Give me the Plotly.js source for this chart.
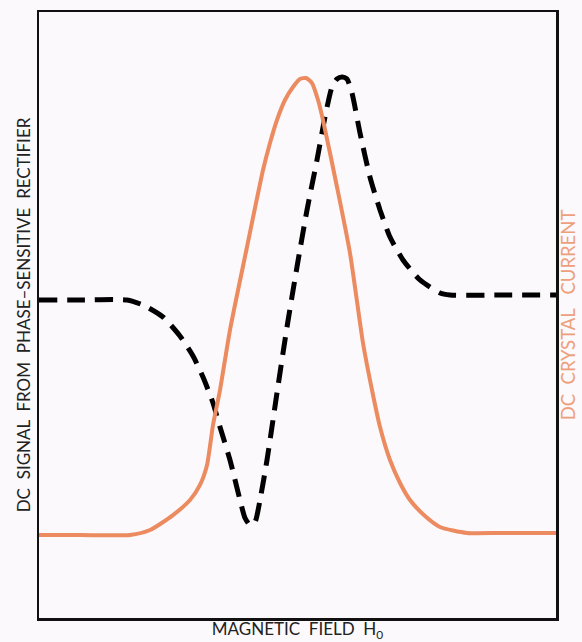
<!DOCTYPE html>
<html>
<head>
<meta charset="utf-8">
<script src="https://cdn.plot.ly/plotly-3.0.1.min.js"></script>
<style>
  html, body { margin: 0; padding: 0; background: #fbf9fb; }
  #chart { width: 582px; height: 642px; }
</style>
</head>
<body>
<div id="chart"></div>
<script>
// Magnetic field (arbitrary units, 0..100 across the frame)
const crystalField = [0, 7.93, 17.6, 21.47, 25.92, 29.21, 31.14, 32.5, 33.66, 35.01, 36.94, 40.23, 43.33, 44.68, 46.03, 47.58, 49.13, 50.48, 51.64, 52.8, 53.97, 54.93, 57.64, 60.15, 62.67, 64.41, 65.96, 67.89, 69.83, 71.76, 74.66, 77.56, 82.79, 89.17, 100];
// DC crystal current (arbitrary units)
const crystalCurrent = [13.7, 13.7, 13.7, 14.52, 16.99, 19.47, 21.95, 25.25, 31.85, 37.62, 47.52, 61.22, 73.93, 78.38, 82.18, 85.48, 87.62, 88.94, 89.11, 88.28, 85.48, 82.18, 71.12, 60.23, 45.38, 37.62, 31.52, 26.07, 22.28, 19.47, 16.83, 15.02, 14.03, 14.03, 14.03];

const signalField = [0, 7.93, 17.02, 20.12, 23.98, 27.27, 29.79, 31.72, 33.66, 35.01, 36.94, 38.88, 39.85, 40.81, 41.78, 42.75, 44.1, 46.03, 47.97, 49.9, 51.84, 53.77, 55.32, 56.67, 57.64, 58.61, 59.57, 60.54, 62.09, 64.02, 65.96, 67.89, 70.41, 73.69, 77.56, 79.5, 89.17, 100];
// DC signal from phase-sensitive rectifier (arbitrary units)
const rectifierSignal = [52.48, 52.48, 52.48, 51.65, 49.67, 46.53, 43.23, 39.77, 35.48, 31.52, 26.07, 19.47, 16.5, 15.35, 15.84, 19.47, 26.07, 37.13, 48.02, 57.92, 67.33, 75.58, 82.67, 87.62, 88.94, 89.27, 88.94, 86.63, 80.03, 72.77, 67.33, 62.87, 59.08, 55.78, 53.63, 53.3, 53.3, 53.3];

const xTitle = 'MAGNETIC\u00A0\u00A0FIELD\u00A0\u00A0H<sub>0</sub>';
const yTitle = 'DC\u00A0\u00A0SIGNAL\u00A0\u00A0FROM\u00A0\u00A0PHASE\u2013SENSITIVE\u00A0\u00A0RECTIFIER';
const y2Title = 'DC\u00A0\u00A0CRYSTAL\u00A0\u00A0\u00A0CURRENT';

const orange = '#ec8a60';
const fontFam = 'Lato, "DejaVu Sans", sans-serif';

const traces = [
  {
    x: crystalField, y: crystalCurrent, yaxis: 'y2',
    type: 'scatter', mode: 'lines', name: 'DC crystal current',
    line: { color: orange, width: 4, shape: 'spline', smoothing: 0.6 },
    hoverinfo: 'skip'
  },
  {
    x: signalField, y: rectifierSignal,
    type: 'scatter', mode: 'lines', name: 'DC signal',
    line: { color: '#000000', width: 5, dash: '18px,10px', shape: 'spline', smoothing: 0.6 },
    hoverinfo: 'skip'
  }
];

const axisCommon = {
  range: [0, 100], showgrid: false, zeroline: false, showticklabels: false,
  ticks: '', fixedrange: true
};

const layout = {
  width: 582, height: 642,
  margin: { l: 39, r: 26, t: 12, b: 24, pad: 0 },
  paper_bgcolor: '#fbf9fb', plot_bgcolor: '#fbf9fb',
  showlegend: false,
  font: { family: fontFam, color: '#1a1a1a' },
  xaxis: Object.assign({}, axisCommon, {
    showline: true, mirror: true, linecolor: '#111', linewidth: 2.5,
    title: { text: xTitle, font: { size: 17, color: '#222', family: fontFam }, standoff: 7 }
  }),
  yaxis: Object.assign({}, axisCommon, {
    showline: true, mirror: true, linecolor: '#111', linewidth: 2.5,
    title: { text: yTitle, font: { size: 17, color: '#222', family: fontFam }, standoff: 2 }
  }),
  yaxis2: Object.assign({}, axisCommon, {
    overlaying: 'y', side: 'right', showline: false,
    title: { text: y2Title, font: { size: 18.5, color: '#eda07c', family: fontFam }, standoff: 6 }
  })
};

Plotly.newPlot('chart', traces, layout, { displayModeBar: false, staticPlot: true });
</script>
</body>
</html>
